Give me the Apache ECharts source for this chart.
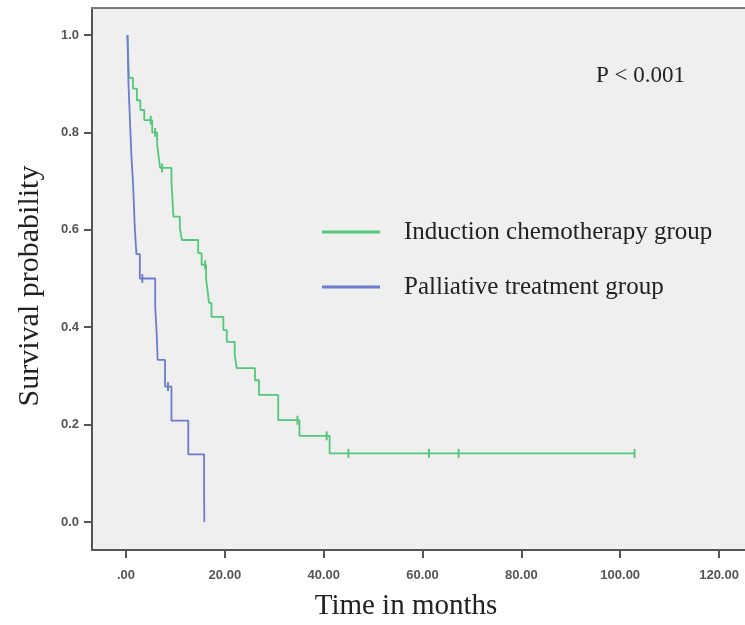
<!DOCTYPE html>
<html>
<head>
<meta charset="utf-8">
<script src="https://cdn.jsdelivr.net/npm/echarts@6/dist/echarts.min.js"></script>
<style>
html,body{margin:0;padding:0;background:#fff;}
#c{width:745px;height:625px;}
</style>
</head>
<body>
<div id="c"></div>
<script>
// ---- data ----
const xTicks = [0, 20, 40, 60, 80, 100, 120];
const yTicks = [0, 0.2, 0.4, 0.6, 0.8, 1.0];

const greenName = 'Induction chemotherapy group';
const greenT = [0.3, 0.6, 1.4, 2.2, 2.9, 3.7, 5.3, 6.3, 6.6, 6.9, 9.2, 9.6, 10.9, 11.3, 14.6, 15.3, 16.2, 16.5, 16.8, 17.3, 19.7, 20.4, 22.0, 22.4, 26.1, 26.9, 30.8, 35.1, 41.2, 102.9];
const greenS = [1.0, 0.912, 0.89, 0.866, 0.846, 0.825, 0.80, 0.775, 0.75, 0.727, 0.70, 0.627, 0.604, 0.579, 0.552, 0.528, 0.50, 0.475, 0.45, 0.421, 0.394, 0.37, 0.343, 0.316, 0.291, 0.261, 0.209, 0.177, 0.141, 0.141];
const greenCensorT = [5.0, 5.9, 7.3, 16.0, 34.7, 40.6, 45.0, 61.3, 67.3, 102.9];
const greenCensorS = [0.825, 0.80, 0.727, 0.528, 0.209, 0.177, 0.141, 0.141, 0.141, 0.141];

const blueName = 'Palliative treatment group';
const blueT = [0.3, 0.4, 0.5, 0.7, 0.9, 1.1, 1.4, 1.6, 1.8, 2.1, 2.8, 5.9, 6.2, 6.4, 7.9, 9.2, 12.6, 15.8, 15.85];
const blueS = [1.0, 0.95, 0.90, 0.85, 0.80, 0.75, 0.70, 0.65, 0.60, 0.55, 0.50, 0.444, 0.389, 0.333, 0.278, 0.208, 0.139, 0.069, 0.0];
const blueCensorT = [3.3, 8.5];
const blueCensorS = [0.50, 0.278];

const pText = 'P < 0.001';
const xTitle = 'Time in months';
const yTitle = 'Survival probability';

// ---- build ----
const zip = (a, b) => a.map((v, i) => [v, b[i]]);
const green = '#52c97a';
const blue = '#6b7dcc';
const serif = '"Liberation Serif", "DejaVu Serif", serif';
const X_MIN = -6.88, X_MAX = 125.25;

const chart = echarts.init(document.getElementById('c'), null, {renderer: 'canvas'});
chart.setOption({
  animation: false,
  backgroundColor: '#ffffff',
  grid: {
    left: 92, top: 8, right: 0, bottom: 75,
    show: true, backgroundColor: '#efefef', borderWidth: 0
  },
  xAxis: [{
    type: 'value', min: X_MIN, max: X_MAX,
    splitLine: {show: false},
    axisLine: {show: true, onZero: false, lineStyle: {color: '#555', width: 2}},
    axisTick: {show: true, customValues: xTicks, length: 8, lineStyle: {color: '#555', width: 2}},
    axisLabel: {
      customValues: xTicks, color: '#555', fontSize: 13, fontWeight: 'bold',
      fontFamily: '"Liberation Sans", Arial, sans-serif', margin: 19,
      formatter: v => v === 0 ? '.00' : v.toFixed(2)
    }
  }, {
    type: 'value', position: 'top', min: X_MIN, max: X_MAX,
    splitLine: {show: false}, axisTick: {show: false}, axisLabel: {show: false},
    axisLine: {show: true, onZero: false, lineStyle: {color: '#7a7a7a', width: 2}}
  }],
  yAxis: {
    type: 'value', min: -0.0575, max: 1.0554,
    splitLine: {show: false},
    axisLine: {show: true, onZero: false, lineStyle: {color: '#555', width: 2}},
    axisTick: {show: true, customValues: yTicks, length: 8, lineStyle: {color: '#555', width: 2}},
    axisLabel: {
      customValues: yTicks, color: '#555', fontSize: 13, fontWeight: 'bold',
      fontFamily: '"Liberation Sans", Arial, sans-serif', margin: 13,
      formatter: v => v.toFixed(1)
    }
  },
  legend: {
    data: [greenName, blueName],
    orient: 'vertical', left: 317, top: 213,
    itemWidth: 58, itemHeight: 3, itemGap: 27,
    icon: 'rect',
    textStyle: {fontFamily: serif, fontSize: 25, color: '#222', padding: [0, 0, 0, 19], lineHeight: 28}
  },
  graphic: [
    {type: 'text', left: 596, top: 64, style: {text: pText, font: '23px ' + serif, fill: '#222'}},
    {type: 'text', x: 406, y: 606, style: {text: xTitle, font: '29px ' + serif, fill: '#222', align: 'center', verticalAlign: 'middle'}},
    {type: 'text', x: 30, y: 286, rotation: Math.PI / 2, style: {text: yTitle, font: '30px ' + serif, fill: '#222', align: 'center', verticalAlign: 'middle'}}
  ],
  series: [
    {name: greenName, type: 'line', step: 'end', data: zip(greenT, greenS), showSymbol: false,
     lineStyle: {color: green, width: 1.8}, itemStyle: {color: green}},
    {name: blueName, type: 'line', step: 'end', data: zip(blueT, blueS), showSymbol: false,
     lineStyle: {color: blue, width: 1.8}, itemStyle: {color: blue}},
    {name: 'greenCensor', type: 'scatter', data: zip(greenCensorT, greenCensorS),
     symbol: 'rect', symbolSize: [2, 9], itemStyle: {color: '#3fb767'}},
    {name: 'blueCensor', type: 'scatter', data: zip(blueCensorT, blueCensorS),
     symbol: 'rect', symbolSize: [2, 9], itemStyle: {color: '#5566bb'}}
  ]
});
</script>
</body>
</html>
